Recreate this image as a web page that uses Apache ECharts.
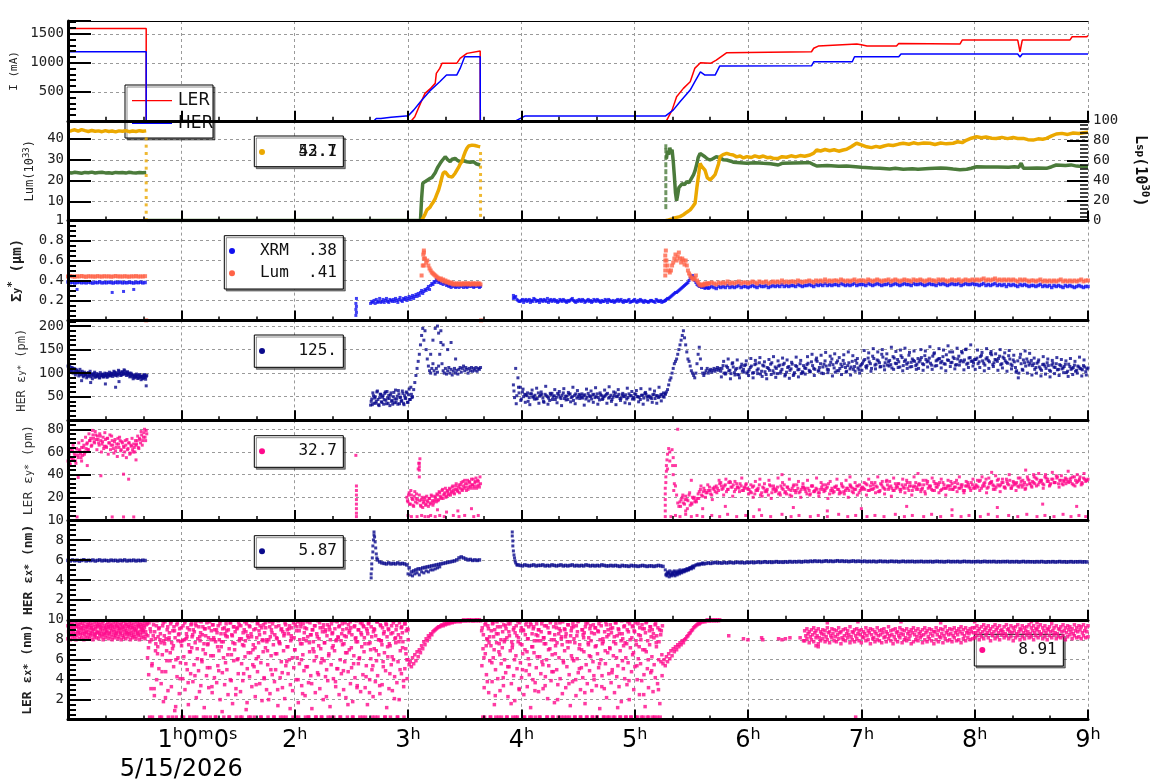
<!DOCTYPE html>
<html><head><meta charset="utf-8">
<script src="https://cdn.jsdelivr.net/npm/echarts@6/dist/echarts.min.js"></script>
<style>html,body{margin:0;padding:0;background:#fff}#c{width:1160px;height:782px}</style>
</head><body><div id="c"></div><script>
// ---------------- DATA (time in hours) ----------------
// Panel 1: beam currents (mA)
const lerCurT = [0,0.69,0.6901,3.03,3.06,3.11,3.15,3.2,3.24,3.25,3.28,3.30,3.43,3.46,3.52,3.637,3.638,5.28,5.33,5.37,5.43,5.49,5.53,5.58,5.67,5.72,5.81,6.56,6.58,6.62,6.96,7.00,7.05,7.31,7.33,7.87,7.89,8.38,8.40,8.42,8.84,8.86,8.99,9.0];
const lerCurV = [1590,1590,0,0,69,300,472,559,645,817,903,990,990,1076,1162,1202,0,0,184,414,559,672,903,1000,990,1046,1172,1190,1250,1288,1322,1310,1288,1290,1334,1322,1391,1391,1190,1391,1391,1448,1448,1470];
const herCurT = [0,0.69,0.6901,2.70,2.72,2.76,2.85,2.98,3.0,3.05,3.11,3.2,3.28,3.34,3.43,3.46,3.5,3.637,3.638,3.95,4.03,5.27,5.34,5.40,5.49,5.53,5.58,5.62,5.71,5.75,6.56,6.58,6.92,6.94,7.33,7.35,8.38,8.40,8.42,9.0];
const herCurV = [1190,1190,0,0,41,41,60,81,81,184,328,529,672,788,788,903,1103,1103,0,0,81,81,184,328,529,672,845,788,788,943,948,1017,1017,1103,1103,1150,1150,1100,1150,1150];

// Panel 2: luminosity (left, 10^33) and specific luminosity (right, 10^30)
const lumA = [43.6,43.9,44.3,43.7,44.4,43.9,43.5,44.0,43.6,43.8,43.4,43.9,43.5,43.7,43.3,43.8,43.6,43.9,43.4,43.7,43.5,43.9,43.6,43.8];
const lumB = [[3.12,1],[3.135,2.5],[3.15,4],[3.167,6.1],[3.18,6.6],[3.195,7.4],[3.21,8.8],[3.225,10],[3.24,11.5],[3.255,13.6],[3.27,15.6],[3.285,18.5],[3.30,21.8],[3.31,23.6],[3.328,24.3],[3.345,23.5],[3.36,22.1],[3.372,21.2],[3.39,21.8],[3.405,22.6],[3.416,23.6],[3.43,24.5],[3.45,26.8],[3.46,28],[3.475,29.1],[3.49,31.6],[3.505,33.8],[3.52,35.5],[3.535,36.6],[3.55,37.3],[3.565,37],[3.577,37.4],[3.59,36.8],[3.605,37.1],[3.62,36.4],[3.637,36.2]];
const lumC = [[5.27,1],[5.30,1.3],[5.33,1.8],[5.36,2.4],[5.40,2.9],[5.43,3.8],[5.46,5.0],[5.49,6.1],[5.51,7.5],[5.533,9.3],[5.55,17.2],[5.565,23.0],[5.577,28.3],[5.59,27.0],[5.62,25.1],[5.64,21.5],[5.665,20.4],[5.68,21.0],[5.694,21.9],[5.71,23.0],[5.724,23.6],[5.74,28.0],[5.754,31.5],[5.78,32.5],[5.812,33.1],[5.84,32.6],[5.87,32.3],[5.90,31.4],[5.93,31.8],[5.96,30.9],[5.99,31.5],[6.03,31.1],[6.06,31.9],[6.10,31.2],[6.135,31.8],[6.17,31.0],[6.2,31.2],[6.23,30.6],[6.267,30.7],[6.30,31.5],[6.34,31.2],[6.38,31.9],[6.42,31.4],[6.46,32.0],[6.50,31.7],[6.547,32.3],[6.58,33.2],[6.606,34.7],[6.64,34.2],[6.68,34.9],[6.72,34.3],[6.76,34.8],[6.80,34.1],[6.84,34.7],[6.87,35.0],[6.91,36.2],[6.958,37.9],[7.00,37.1],[7.047,36.2],[7.09,35.8],[7.13,36.4],[7.164,36.0],[7.2,36.6],[7.24,37.1],[7.28,36.8],[7.33,37.5],[7.37,37.9],[7.42,37.4],[7.46,38.1],[7.5,37.6],[7.55,38.0],[7.605,37.9],[7.65,37.3],[7.7,38.0],[7.75,37.6],[7.81,37.9],[7.85,38.6],[7.89,38.2],[7.93,39.4],[7.97,40.3],[8.017,41.0],[8.06,40.5],[8.1,40.9],[8.15,40.3],[8.19,40.2],[8.24,40.7],[8.29,40.1],[8.34,40.6],[8.38,40.2],[8.43,40.2],[8.47,39.6],[8.516,39.4],[8.56,40.0],[8.6,39.8],[8.634,40.2],[8.68,41.4],[8.72,42.3],[8.77,42.6],[8.82,42.1],[8.87,42.8],[8.92,42.5],[8.96,42.9],[9.0,43.1]];
const lumDrop = [[0.69,40],[0.69,36.5],[0.69,33],[0.69,29.5],[0.69,26],[0.69,22.5],[0.69,19],[0.69,15.5],[0.69,12],[0.69,8.5],[0.69,5],[0.69,1.5],[3.64,33],[3.64,30],[3.64,26.5],[3.64,23],[3.64,20],[3.64,16.5],[3.64,13],[3.64,10],[3.64,6.5],[3.64,3.5]];
const lspA = [48.2,47.6,48.5,48.0,47.4,48.3,47.9,48.6,47.7,48.1,48.4,47.8,48.0,47.5,48.3,47.9,48.2,47.6,48.4,48.0,47.7,48.2,47.9,48.1];
const lspB = [[0.695,0],[3.11,0],[3.12,22],[3.13,37.4],[3.15,39],[3.167,40.7],[3.19,42],[3.21,43],[3.225,44],[3.24,48],[3.26,53],[3.284,57.4],[3.30,60],[3.328,64],[3.35,61],[3.372,59],[3.39,61.5],[3.416,62.4],[3.44,60],[3.46,59],[3.49,60],[3.52,59],[3.55,58.5],[3.577,59],[3.60,57],[3.637,55.7]];
const lspC = [[3.645,0],[5.27,0]];
const lspD = [[5.28,62],[5.29,70],[5.30,66],[5.31,73],[5.32,68],[5.33,71],[5.34,60],[5.35,45],[5.36,28],[5.37,20],[5.38,26],[5.39,33],[5.40,35],[5.42,37],[5.44,36],[5.46,39],[5.48,38],[5.49,40],[5.50,42],[5.52,46],[5.533,50],[5.55,57.4],[5.56,63],[5.577,67.4],[5.59,66],[5.62,64],[5.64,62],[5.665,60.7],[5.69,62],[5.72,64],[5.754,63],[5.78,61],[5.812,60.7],[5.85,59.5],[5.87,58.5],[5.93,58],[5.99,57.4],[6.06,58],[6.135,57.4],[6.2,57],[6.267,55.7],[6.3,57.4],[6.4,57.8],[6.5,58],[6.547,58],[6.58,56],[6.606,54.7],[6.7,55.2],[6.8,54.5],[6.87,54.7],[6.95,54],[7.0,53.5],[7.1,52.6],[7.164,52.4],[7.25,51.8],[7.3,52.4],[7.37,51.4],[7.45,51.9],[7.5,51.4],[7.6,52.2],[7.7,52.8],[7.75,52.4],[7.81,51.6],[7.87,51],[7.93,51.4],[7.97,52.5],[8.017,54],[8.1,53.6],[8.2,53.8],[8.3,53.4],[8.35,54],[8.39,53.5],[8.41,57.5],[8.43,52.5],[8.47,52.4],[8.55,52.8],[8.634,52.4],[8.68,54],[8.72,55.7],[8.8,55.2],[8.85,55.8],[8.9,54.6],[8.95,54.2],[9.0,54]];
const lspCol = [[5.275,14],[5.275,21],[5.275,28],[5.275,35],[5.275,42],[5.275,49],[5.275,56],[5.275,63],[5.275,70],[5.275,74]];

// Panel 3: vertical beam size (um), XRM and Lum
const xrmA = [0.385,0.378,0.382,0.375,0.380,0.384,0.377,0.381,0.376,0.383,0.379,0.374,0.381,0.378,0.385,0.376,0.380,0.377,0.383,0.379,0.375,0.382,0.378,0.384,0.376,0.380,0.377,0.382,0.379,0.375,0.381,0.378,0.383,0.376,0.380];
const xrmOut = [[0.08,0.31],[0.39,0.28],[0.49,0.29],[0.58,0.31],[2.54,0.05],[2.545,0.08],[2.54,0.11],[2.545,0.14],[2.54,0.17],[2.545,0.22],[3.93,0.25]];
const xrmC = [0.17,0.19,0.18,0.20,0.17,0.21,0.18,0.19,0.22,0.18,0.19,0.21,0.18,0.20,0.22,0.19,0.18,0.21,0.20,0.19,0.21,0.19,0.22,0.20,0.18,0.21,0.23,0.20,0.19,0.22,0.21,0.23,0.20,0.22,0.24,0.21,0.23,0.25,0.22,0.24,0.26,0.24,0.27,0.25,0.28,0.30,0.27,0.29,0.31,0.30,0.32,0.34,0.31,0.35,0.37,0.36,0.39,0.38,0.41,0.40,0.38,0.39,0.37,0.40,0.36,0.38,0.37,0.35,0.36,0.34,0.35,0.33,0.36,0.34,0.35,0.33,0.34,0.36,0.33,0.35,0.34,0.36,0.33,0.35,0.34,0.33,0.35,0.34,0.36,0.34,0.35,0.33,0.34,0.36,0.34,0.35,0.33,0.34];
const xrmD = [0.22,0.24,0.20,0.19,0.21,0.20,0.19,0.21,0.20,0.22,0.19,0.20,0.21,0.19,0.20,0.22,0.20,0.19,0.21,0.20,0.19,0.20,0.21,0.19,0.20,0.20,0.22,0.19,0.20,0.21,0.19,0.20,0.19,0.21,0.20,0.19,0.20,0.21,0.19,0.20,0.19,0.20,0.21,0.19,0.20,0.19,0.21,0.20,0.19,0.20,0.19,0.21,0.19,0.20,0.19,0.20,0.21,0.19,0.20,0.19,0.19,0.20,0.19,0.21,0.19,0.20,0.19,0.20];
const xrmD2 = [0.23,0.21,0.19,0.20,0.18,0.21,0.20,0.18,0.19,0.21,0.20,0.18,0.20,0.21,0.19,0.18,0.21,0.20,0.19,0.18,0.21,0.19,0.20,0.18,0.19,0.21,0.20,0.18,0.19,0.20,0.21,0.18,0.20,0.19,0.18,0.21,0.19,0.20,0.18,0.19,0.21,0.18,0.20,0.19,0.18,0.20,0.19,0.21,0.18,0.19,0.20,0.18,0.19,0.21,0.18,0.19,0.20,0.18,0.19,0.18,0.20,0.19,0.18,0.20,0.19,0.18,0.19];
const xrmE = [0.20,0.21,0.22,0.22,0.23,0.24,0.25,0.26,0.27,0.28,0.28,0.29,0.30,0.31,0.32,0.33,0.34,0.35,0.36,0.37,0.38,0.40,0.42,0.44,0.45,0.43,0.40,0.38,0.36,0.35,0.34,0.34,0.33,0.34,0.33,0.32,0.33,0.33,0.32];
const xrmF = [0.33,0.34,0.33,0.32,0.34,0.33,0.34,0.33,0.35,0.33,0.34,0.33,0.34,0.35,0.33,0.34,0.34,0.33,
0.34,0.35,0.34,0.33,0.35,0.34,0.34,0.35,0.33,0.34,0.35,0.34,0.35,0.34,0.36,0.34,0.35,0.34,0.35,0.35,0.34,0.36,0.35,0.34,0.35,
0.35,0.36,0.35,0.34,0.36,0.35,0.36,0.35,0.37,0.35,0.36,0.35,0.36,0.36,0.35,0.37,0.36,0.35,0.36,0.35,0.36,0.37,0.35,0.36,0.36,
0.36,0.35,0.37,0.36,0.35,0.36,0.37,0.36,0.35,0.36,0.36,0.37,0.35,0.36,0.37,0.36,0.35,0.36,0.37,0.36,0.36,0.35,0.37,0.36,0.36,
0.37,0.36,0.35,0.36,0.37,0.36,0.36,0.35,0.37,0.36,0.37,0.36,0.35,0.36,0.37,0.36,0.36,0.37,0.35,0.36,0.37,0.36,0.36,0.37,0.36,
0.36,0.35,0.36,0.37,0.35,0.36,0.35,0.36,0.37,0.35,0.36,0.35,0.36,0.34,0.36,0.35,0.36,0.35,0.34,0.36,0.35,0.36,0.35,0.34,0.35,
0.35,0.34,0.35,0.36,0.34,0.35,0.34,0.35,0.33,0.35,0.34,0.35,0.34,0.33,0.35,0.34,0.35,0.34,0.33,0.34,0.35,0.34,0.33,0.34,0.34];
const lsyA = [0.44,0.445,0.44,0.438,0.442,0.44,0.445,0.44,0.437,0.443,0.44,0.441,0.438,0.444,0.44,0.439,0.443,0.44,0.442,0.438,0.44,0.445,0.44,0.441,0.439,0.443,0.44,0.438,0.442,0.44,0.444,0.439,0.441,0.44,0.443];
const lsyOut = [[0.69,0.0],[3.645,0.0],[3.14,0.55],[3.14,0.62],[3.14,0.70],[3.135,0.66],[5.27,0.5],[5.27,0.55],[5.27,0.6],[5.27,0.65],[5.275,0.7]];
const lsyB = [0.45,0.55,0.68,0.62,0.58,0.60,0.55,0.52,0.50,0.48,0.47,0.46,0.45,0.44,0.43,0.42,0.41,0.42,0.40,0.41,0.39,0.40,0.38,0.39,0.38,0.37,0.38,0.37,0.36,0.37,0.36,0.37,0.36,0.37,0.36,0.37,0.36,0.37,0.37,0.36,0.37,0.37,0.36,0.37,0.36,0.37,0.37,0.36,0.37,0.36,0.37,0.37,0.36];
const lsyC = [0.45,0.60,0.55,0.50,0.48,0.50,0.55,0.58,0.62,0.66,0.60,0.64,0.68,0.62,0.58,0.62,0.60,0.56,0.60,0.55,0.50,0.47,0.45,0.43,0.42,0.41,0.42,0.45,0.40,0.38,0.36,0.35,0.36,0.35,0.36,0.37,0.36,0.37,0.37];
const lsyD = [0.37,0.38,0.37,0.36,0.38,0.37,0.38,0.37,0.39,0.37,0.38,0.37,0.38,0.39,0.37,0.38,0.38,0.37,
0.38,0.39,0.38,0.37,0.39,0.38,0.38,0.39,0.37,0.38,0.39,0.38,0.39,0.38,0.40,0.38,0.39,0.38,0.39,0.39,0.38,0.40,0.39,0.38,0.39,
0.39,0.40,0.39,0.38,0.40,0.39,0.40,0.39,0.41,0.39,0.40,0.39,0.40,0.40,0.39,0.41,0.40,0.39,0.40,0.39,0.40,0.41,0.39,0.40,0.40,
0.40,0.39,0.41,0.40,0.39,0.40,0.41,0.40,0.39,0.40,0.40,0.41,0.39,0.40,0.41,0.40,0.39,0.40,0.41,0.40,0.40,0.39,0.41,0.40,0.40,
0.41,0.40,0.39,0.40,0.41,0.40,0.40,0.39,0.41,0.40,0.41,0.40,0.39,0.40,0.41,0.40,0.40,0.41,0.39,0.40,0.41,0.40,0.40,0.41,0.40,
0.41,0.40,0.41,0.42,0.40,0.41,0.40,0.41,0.42,0.40,0.41,0.40,0.41,0.40,0.41,0.40,0.41,0.40,0.39,0.41,0.40,0.41,0.40,0.39,0.40,
0.40,0.39,0.40,0.41,0.39,0.40,0.39,0.40,0.39,0.40,0.39,0.40,0.41,0.39,0.40,0.39,0.40,0.39,0.40,0.39,0.40,0.41,0.39,0.40,0.40];

// Panel 4: HER vertical emittance (pm)
const herEyA = [115,108,112,104,110,106,102,108,100,104,98,102,96,100,95,99,97,93,101,96,92,98,94,99,91,96,93,97,90,95,98,92,96,94,99,93,97,95,100,96,98,102,95,99,97,104,100,96,103,99,105,98,101,96,100,94,98,92,96,90,95,93,89,97,92,94,88,95,91,93];
const herEyA2 = [108,118,104,112,100,110,96,106,102,94,108,98,104,92,102,96,90,100,94,104,98,88,96,102,93,99,95,90,101,94,97,92,100,95,91,98,102,94,99,93,104,97,101,94,106,99,95,102,97,107,100,95,103,98,92,100,96,88,94,92,98,89,95,91,86,93,90,97,87,95];
const herEyOut = [[0.12,84],[0.2,80],[0.33,77],[0.42,70],[0.45,82],[0.69,73],[3.2,140],[3.22,170],[3.24,195],[3.26,200],[3.27,185],[3.29,190],[3.31,160],[3.35,150],[3.38,165],[3.42,130]];
const herEyB = [32,45,58,36,50,40,62,33,48,55,38,52,44,60,35,47,53,31,58,42,50,37,64,45,34,56,48,40,62,36,52,46,58,38,66,44,55,50];
const herEyB2 = [40,33,52,47,36,60,44,31,55,39,49,34,57,42,61,36,46,53,40,34,59,45,38,51,63,35,49,42,57,33,47,60,38,54,44,70,48];
const herEyC = [65,80,95,110,125,140,160,180,195,170,190,150,130,115,105,100,110,120,105,98,110,102,115,140,165,120,105,100,110,98,105,112,100,108,96,104,110,100,106,98,108,112,102,110,115,105,112,108,100,110,105,112,104,110,106,112,104,110,108,112];
const herEyD = [75,110,90,70,60,55,52,48,56,50,45,58,53,47,55,50,42,57,52,49,54,46,58,51,44,56,50,53,47,55,49,52,45,57,50,54,48,56,43,52,50,55,47,53,49,58,51,46,54,50,45,56,52,48,55,50,44,53,57,49,51,46,55,52,48,54,50,56];
const herEyD2 = [48,52,58,45,50,54,40,56,49,53,46,51,55,38,52,47,54,50,44,57,49,53,46,51,55,48,42,56,50,53,47,54,49,52,45,55,50,48,54,46,52,57,49,44,53,50,55,47,51,54,48,52,45,56,50,49,53,47,55,51,48,54,46,52,50,55,49];
const herEyD3 = [62,35,70,42,66,38,58,33,64,45,68,36,60,40,72,34,57,44,65,37,61,31,67,43,59,39,70,35,63,46,56,32,66,41,62,38,69,34,58,44,64,36,71,40,60,33,65,42,57,37,68,35,61,45,63,39,67,34,59,43,66,38,62,36,70,41,58];
const herEyE = [55,60,65,75,85,90,100,110,120,125,130,140,150,160,170,180,190,175,160,145,130,125,115,105,100,95,90,100,120,140,155,130,110,100,95,100,105,110,100,105,108,102,106,110,104,108,112,106,110];
const herEyF = [104,116,98,112,106,120,101,110,96,114,108,118,103,
112,100,118,106,122,104,115,97,110,119,105,113,99,117,108,121,102,114,109,95,116,107,120,103,111,
118,106,124,110,128,104,120,113,126,108,117,130,111,122,105,119,127,112,116,109,125,114,121,107,118,
126,114,132,120,136,117,128,122,140,115,130,124,118,135,121,129,113,133,125,119,138,123,127,116,131,
128,120,137,124,132,117,141,126,130,122,135,119,128,145,123,131,118,136,127,124,150,121,133,126,129,
132,124,138,121,130,127,142,118,129,125,136,120,131,123,137,119,128,112,126,133,108,122,130,117,127,
120,112,124,109,118,115,122,106,117,113,120,108,116,111,119,104,114,110,117,106,113,109,116,103,111];
const herEyF2 = [110,100,115,105,99,113,107,97,111,104,116,100,
107,115,101,120,109,98,117,103,112,106,122,100,110,115,104,118,97,112,106,119,101,114,108,99,116,
110,121,103,116,108,125,112,100,119,115,107,123,118,102,126,110,114,120,104,122,113,108,127,111,115,
121,129,116,124,110,131,119,126,114,134,122,117,127,111,132,120,124,137,116,128,122,113,130,125,119,
124,133,118,129,126,121,136,115,128,131,125,120,139,127,122,134,117,130,124,143,128,119,132,125,122,
129,120,135,126,117,133,124,139,122,128,131,118,134,126,121,130,116,124,105,100,120,128,115,124,121,
116,108,121,113,106,119,110,116,104,121,112,107,118,109,114,101,119,108,112,104,115,110,107,113,109];
const herEyF3 = [92,125,100,130,88,122,96,128,90,119,102,126,
95,131,90,127,99,133,93,124,88,129,97,135,91,126,100,132,94,128,89,123,98,134,92,127,101,
98,135,103,140,95,132,106,138,99,144,101,136,94,141,105,133,97,139,102,145,96,137,104,131,100,
106,148,111,143,104,152,109,145,113,150,107,141,115,155,108,146,112,149,105,153,110,144,114,147,108,
110,150,106,147,113,156,108,143,116,152,111,149,105,158,114,145,109,153,117,146,107,151,112,160,115,
108,149,112,144,105,152,110,146,114,141,106,150,111,143,104,148,109,138,102,90,140,106,147,100,142,
96,132,100,128,94,135,98,130,92,127,99,133,95,129,101,126,93,131,97,125,100,134,94,128,96];

// Panel 5: LER vertical emittance (pm)
const lerEyA = [52,58,49,55,61,53,57,50,60,55,62,58,64,57,66,60,63,68,62,70,72,66,75,69,78,71,74,68,76,70,67,73,65,71,64,72,68,75,66,70,63,69,61,67,72,64,70,62,68,65,60,66,71,63,68,59,65,62,67,60,66,70,64,72,68,75,70,77,73,79];
const lerEyA2 = [58,50,62,54,66,59,52,63,57,68,61,55,70,64,58,73,67,62,76,70,65,79,72,68,75,62,71,66,74,60,69,63,77,65,72,58,68,62,74,66,59,71,64,56,67,73,61,69,57,64,70,55,62,68,58,66,72,60,64,70,67,74,63,71,78,66,73,80,70,76];
const lerEyOut = [[0.08,2.7],[0.39,2.7],[0.49,2.7],[0.58,2.7],[0.09,37.5],[0.17,48],[0.29,39],[0.49,40.4],[0.535,36],[0.12,52],[0.6,53],
[2.545,3],[2.545,6],[2.545,10],[2.545,14],[2.545,18],[2.545,22],[2.545,26],[2.545,30],[2.54,57],
[3.1,38],[3.1,44],[3.1,50],[3.105,54],[3.1,47],
[3.0,4],[3.03,3],[3.08,3],[3.12,4],[3.15,3],[3.18,3],[3.2,4],[3.24,3],[3.28,4],[3.32,3],[3.4,4],[3.45,3],[3.5,4],[3.58,3],[3.62,4],[3.26,9],[3.34,7],[3.44,8],[3.56,10],
[5.27,3],[5.27,8],[5.27,13],[5.27,18],[5.27,23],[5.27,28],[5.275,33],[5.275,38],[5.28,43],[5.28,48],[5.285,53],[5.29,58],[5.30,63],[5.29,45],[5.31,60],[5.31,52],
[5.33,62],[5.34,55],[5.335,48],[5.34,40],[5.35,32],[5.345,26],[5.38,80],[5.36,30],[5.37,22],[5.38,15],[5.39,12],[5.36,48],
[5.32,3],[5.36,4],[5.4,3],[5.45,5],[5.5,3],[5.55,4],[5.6,3],[5.68,4],[5.75,3],[5.82,5],[5.9,3],[5.98,4],[6.05,3],[6.12,4],[6.2,3],[6.3,5],[6.38,3],[6.45,4],[6.55,3],[6.62,4],[6.7,3],[6.8,5],[6.88,3],[6.95,4],[7.05,3],[7.12,4],[7.2,3],[7.3,5],[7.38,3],[7.45,4],[7.55,3],[7.62,5],[7.7,3],[7.8,4],[7.88,3],[7.95,4],[8.05,3],[8.12,5],[8.2,3],[8.3,4],[8.38,3],[8.46,5],[8.55,3],[8.62,4],[8.7,3],[8.78,5],[8.85,3],[8.92,4],[8.98,3],
[5.45,8],[5.6,10],[5.8,12],[6.1,9],[6.4,11],[6.7,8],[7.0,10],[7.4,12],[7.8,9],[8.2,11],[8.6,14],[8.9,12],[5.5,35],[6.3,40],[6.9,38],[7.5,41],[8.15,42],[8.45,44],[8.52,40]];
const lerEyC = [20,16,24,14,22,18,12,25,19,15,45,22,13,18,11,16,20,14,17,12,19,15,21,13,17,20,16,22,18,24,20,26,19,23,28,21,25,22,27,24,29,26,23,30,27,25,31,28,33,26,30,35,29,32,27,34,30,36,31,28,33,37,30,34,29,32];
const lerEyC2 = [17,22,14,26,19,13,21,16,23,18,50,17,12,20,15,18,13,21,16,19,14,22,17,15,21,18,23,17,25,21,19,27,22,24,20,26,23,28,22,25,30,24,27,32,26,29,24,31,27,34,28,32,26,35,29,33,28,31,36,30,34,28,35,31,38];
const lerEyD = [16,20,14,18,22,15,19,17, 23,27,21,26,24,29,22,27, 30,26,33,28,31,27,34,29,25,32,28,30,26,31,27,
25,29,23,27,31,24,28,26,22,30,27,25,29,24,28,31,23,27,26,30,24,28,25,29,27,23,26,30,25,28,24,27,31,26,29,23,28,25,30,27,24,29,26,28,31,25,27,30,24,28,
28,32,26,30,27,33,29,25,31,28,34,27,30,26,32,29,27,31,28,35,26,30,29,33,27,31,28,25,32,30,27,34,29,31,26,33,28,30,27,32,29,35,28,31,26,30,33,28,31,29,
30,34,28,32,36,29,33,31,27,35,30,33,29,36,31,28,34,32,30,37,29,33,31,35,30,
33,37,31,35,32,38,34,30,36,33,39,32,35,31,37,34,36,32,38,33,35,31,37,34,36];
const lerEyD2 = [18,15,21,17,13,20,16,19, 25,22,28,24,26,23,28,25, 28,32,27,30,25,33,29,31,27,29,32,26,29,28,
27,24,30,26,28,22,29,25,27,31,24,28,26,23,30,27,25,29,22,28,26,31,24,27,29,25,28,23,30,26,27,24,29,25,28,32,26,24,29,27,25,30,23,28,26,29,24,27,30,26,
29,27,31,26,33,28,30,25,32,29,27,31,34,28,26,30,32,27,29,31,28,33,26,30,29,32,27,31,35,28,30,26,32,29,33,27,31,28,30,34,27,29,32,28,31,26,30,29,33,28,
31,29,35,30,33,28,32,34,30,29,36,31,33,28,32,35,30,31,33,29,34,31,28,36,32,
34,32,36,33,35,31,37,34,32,36,33,38,35,32,34,36,33,37,31,35,34,38,32,36,35];
const lerEyD3 = [12,22,18,10,24,14,20,16, 19,30,25,20,31,26,18,29, 24,35,30,22,36,27,33,21,34,29,25,37,28,32,23,
31,20,34,26,36,21,32,25,35,19,30,27,37,22,33,24,29,36,21,31,26,34,20,32,28,35,22,30,25,37,21,33,27,31,19,34,26,29,36,23,32,25,35,20,30,28,33,22,31,27,
33,22,36,27,31,24,38,26,34,23,35,29,21,37,28,32,25,36,24,33,30,22,38,27,31,25,35,23,34,29,37,26,32,24,36,28,22,35,30,27,33,25,38,29,24,34,31,26,36,28,
35,26,38,30,24,37,33,27,39,31,25,36,29,34,40,28,33,26,37,31,35,27,38,32,29,
38,30,41,34,28,40,36,31,42,33,37,29,39,35,32,43,34,38,30,40,36,33,41,35,39];

// Panel 6: HER horizontal emittance (nm)
const herExA = [5.95,5.9,6.0,5.92,5.97,5.88,5.95,6.02,5.9,5.96,5.93,5.99,5.89,5.95,6.0,5.91,5.96,5.94,5.9,5.98,5.93,5.96,5.89,5.97,5.92,6.0,5.9,5.95,5.93,5.98,5.9,5.96,5.92,5.97,5.94];
const herExOut = [[2.675,4.2],[2.675,4.6],[2.68,5.1],[2.68,5.6],[2.685,6.2],[2.69,6.8],[2.69,7.4],[2.695,8.0],[2.70,8.5],[2.70,8.8],[2.705,8.3],[2.71,7.8],[2.715,7.2],[2.72,6.6],[2.725,6.2],
[3.92,8.8],[3.92,8.4],[3.925,7.9],[3.925,7.4],[3.93,6.9],[3.935,6.5],[3.94,6.2],[3.945,5.9],[3.95,5.7],[3.96,5.5]];
const herExB = [6.0,5.8,5.7,5.65,5.6,5.7,5.6,5.65,5.6,5.7,5.6,5.65,5.6,5.5,5.2,4.8,4.9,5.0,5.1,5.1,5.2,5.25,5.3,5.35,5.4,5.45,5.5,5.55,5.6,5.65,5.7,5.75,5.8,5.85,5.9,6.0,6.2,6.3,6.2,6.1,6.0,6.05,5.95,6.0,5.95,6.0];
const herExB2 = [4.6,4.5,4.4,4.6,4.7,4.5,4.8,4.7,4.9,4.8,5.0,5.0,5.1,5.2,5.3];
const herExC = [5.5,5.45,5.4,5.5,5.45,5.4,5.45,5.5,5.4,5.45,5.45,5.5,5.4,5.45,5.4,5.5,5.45,5.4,5.45,5.5,5.4,5.45,5.4,5.45,5.5,5.4,5.45,5.4,5.45,5.4,5.5,5.45,5.4,5.45,5.4,5.45,5.4,5.5,5.45,5.4,5.4,5.45,5.4,5.45,5.4,5.35,5.45,5.4,5.4,5.35,5.45,5.4,5.4,5.35,5.4,5.45,5.4,5.35,5.4,5.4,5.35,5.4,5.45,5.4,5.35];
const herExD = [5.0,4.6,4.8,4.7,4.9,4.6,4.8,4.7,4.9,4.8,4.7,4.9,4.8,5.0,4.8,4.9,5.0,4.9,5.0,5.1,5.0,5.1,5.2,5.1,5.3,5.2,5.4,5.5,5.5,5.6,5.5,5.6,5.6,5.7];
const herExD2 = [4.5,4.4,4.6,4.3,4.5,4.4,4.6,4.5,4.4,4.6,4.5,4.7,4.6,4.8,4.7,4.9,4.8,5.0,4.9,5.1,5.0,5.2,5.2,5.3,5.4];
const herExE = [5.6,5.65,5.7,5.65,5.7,5.75,5.7,5.72,5.68,5.75,5.7,5.73,5.76,5.7,5.74,5.78,5.72,5.75,5.7,5.76,
5.74,5.78,5.72,5.76,5.8,5.74,5.78,5.82,5.76,5.8,5.75,5.79,5.83,5.77,5.8,5.76,5.82,5.78,5.84,5.79,5.83,5.8,5.85,5.79,5.83,
5.86,5.82,5.88,5.84,5.9,5.85,5.88,5.83,5.87,5.91,5.85,5.89,5.84,5.88,5.92,5.86,5.9,5.85,5.88,5.83,5.87,5.9,5.84,5.88,5.86,
5.84,5.88,5.82,5.86,5.83,5.87,5.81,5.85,5.88,5.83,5.86,5.82,5.85,5.87,5.83,5.86,5.81,5.84,5.87,5.82,5.85,5.83,5.86,5.81,5.84,
5.83,5.86,5.81,5.84,5.82,5.85,5.8,5.84,5.86,5.82,5.84,5.8,5.83,5.86,5.81,5.84,5.82,5.85,5.8,5.83,5.86,5.82,5.84,5.81,5.83,
5.82,5.85,5.8,5.83,5.86,5.81,5.84,5.82,5.85,5.8,5.83,5.81,5.84,5.82,5.85,5.8,5.83,5.81,5.84,5.79,5.82,5.85,5.8,5.83,5.81,
5.82,5.79,5.83,5.8,5.84,5.81,5.78,5.82,5.8,5.83,5.79,5.81,5.84,5.8,5.82,5.78,5.81,5.83,5.79,5.82,5.8,5.83,5.79,5.81,5.8];

// Panel 7: LER horizontal emittance (nm); 0.25 = points sitting on the floor
const lerExA1 = [8.1,8.4,8.0,8.5,8.2,8.6,8.3,8.0,8.4,8.7,8.1,8.5,8.2,8.6,8.0,8.3,8.7,8.2,8.5,8.1,8.4,8.6,8.0,8.3,8.5,8.2,8.7,8.1,8.4,8.6,8.3,8.0,8.5,8.2,8.7,8.4,8.1,8.6,8.3,8.0,8.5,8.2,8.4,8.7,8.1,8.3,8.6,8.0,8.4,8.2,8.5,8.1,8.7,8.3,8.6,8.0,8.4,8.2,8.5,8.3,8.1,8.6,8.4,8.0,8.5,8.2,8.7,8.3,8.1,8.5];
const lerExA2 = [8.8,9.1,8.7,9.2,8.9,9.0,8.6,9.3,8.8,9.1,8.7,9.0,9.2,8.9,8.6,9.1,8.8,9.3,9.0,8.7,9.2,8.9,9.0,8.6,9.1,8.8,9.3,8.7,9.0,9.2,8.9,8.6,9.1,8.8,9.0,9.3,8.7,9.1,8.9,9.2,8.8,9.0,8.6,9.3,8.9,9.1,8.7,9.0,9.2,8.8,9.1,8.9,8.6,9.3,9.0,8.7,9.2,8.8,9.1,8.9,9.0,8.7,9.3,8.8,9.1,9.0,8.9,9.2,8.8];
const lerExA3 = [9.4,9.6,9.3,9.7,9.5,9.2,9.8,9.4,9.6,9.3,9.5,9.7,9.2,9.6,9.4,9.8,9.3,9.5,9.7,9.4,9.6,9.2,9.5,9.8,9.3,9.6,9.4,9.7,9.5,9.3,9.6,9.8,9.4,9.2,9.5,9.7,9.3,9.6,9.4,9.5,9.8,9.3,9.6,9.4,9.7,9.2,9.5,9.6,9.3,9.8,9.4,9.6,9.5,9.3,9.7,9.4,9.6,9.2,9.5,9.8,9.3,9.6,9.4,9.7,9.5,9.3,9.6,9.4,9.8,9.5];
const lerExB1 = [9.6,7.2,0.25,8.8,5.4,9.9,3.1,8.1,9.4,6.6,9.1,0.25,7.7,4.8,9.7,8.4,2.2,6.9,9.3,8.0,5.9,9.8,0.25,7.4,8.9,1.3,9.5,6.2,8.6,4.1,
9.2,7.9,0.25,9.7,5.6,8.3,3.7,9.0,6.8,9.6,8.5,0.25,4.4,9.4,7.1,9.9,2.8,8.7,6.0,9.3,7.6,9.1,0.25,5.2,8.2,9.8,6.4,3.3,9.5,8.0,
0.25,9.0,7.3,4.9,9.6,8.6,0.8,7.8,9.2,5.7,8.9,6.5,0.25,9.7,3.9,8.4,9.3,7.0,2.5,9.1,6.1,9.5,0.25,8.1,7.5,4.6,9.8,8.8,1.7,6.7,
9.4,0.25,8.3,5.5,9.0,7.2,3.5,9.6,6.3,8.5,0.25,9.2,7.9,4.2,9.7,8.0,6.9,2.0,9.3,5.0,8.7,9.9,0.25,6.6,8.2,3.0,9.4,7.6,9.0,4.7,
0.25,8.6,9.5,5.8,7.3,9.1,1.1,8.4,6.2,9.7,7.0,0.25,9.3,4.0,8.9,9.6,6.0,2.6,8.1,9.2,5.3,9.8,0.25,7.7,8.5,3.6,9.0,6.8,9.4,0.25,
8.3,4.5,9.7,7.1,0.25,9.2,5.9,8.8,2.3,9.5,6.4,9.0,0.25,8.6,7.4,9.9,3.8,8.0,5.1,9.3,0.25,7.9,9.6,4.9,8.4,6.7,9.1,1.5,8.7,9.8,
7.2,0.25,5.6,9.4,8.2,3.2,9.0,6.1,9.7,8.5,0.25,9.3,7.6,4.3,8.9,9.6,2.7,7.0,8.3,5.4,9.1,0.25,6.9,9.8,8.0,3.4,9.4,7.5,5.8,8.8,
0.25,9.5,7.3,9.0,4.6,8.6,6.3,9.7,2.1,8.2,9.4,0.25,7.8,5.0,9.2,8.7,3.9,9.6,7.1,6.0,9.0];
const lerExB2 = [8.4,9.7,9.1,8.0,0.25,9.5,8.8,7.6,9.9,8.3,9.2,8.6,0.25,9.4,7.9,9.8,8.1,9.0,0.25,8.7,9.6,7.7,8.9,9.3,8.2,0.25,9.7,8.5,9.1,7.8,
0.25,9.4,8.0,9.9,8.6,9.2,7.5,0.25,9.5,8.3,9.0,8.8,9.6,0.25,8.1,9.3,7.9,9.8,8.5,0.25,9.1,8.4,9.7,7.6,9.2,0.25,8.9,9.5,8.2,9.0,
0.25,8.7,9.4,8.0,9.9,7.8,9.1,0.25,8.6,9.6,8.3,9.0,0.25,9.7,8.5,7.7,9.3,8.8,0.25,9.2,9.8,8.1,9.4,0.25,8.7,9.0,7.9,9.6,8.4,0.25,
9.3,8.6,9.9,7.5,0.25,9.1,8.2,9.7,8.9,9.4,0.25,8.0,9.5,8.7,9.2,7.8,0.25,9.8,8.3,9.0,9.6,0.25,8.5,9.3,8.1,9.9,7.7,0.25,9.1,8.8,
8.4,9.7,0.25,9.0,8.6,9.4,7.9,9.2,0.25,8.2,9.5,8.9,9.8,0.25,8.0,9.3,7.6,9.6,8.7,0.25,9.1,8.3,0.25,9.7,8.5,9.0,7.8,9.4,0.25,8.6,
9.9,8.1,9.2,0.25,8.8,9.5,7.7,9.0,8.4,0.25,9.3,8.0,9.6,8.7,0.25,9.1,7.9,9.8,8.2,9.4,0.25,8.6,9.0,7.6,9.7,8.3,0.25,9.5,8.9,9.2,
8.5,0.25,9.3,8.1,9.9,7.8,9.0,0.25,8.7,9.6,9.4,8.2,0.25,9.1,8.6,9.7,7.7,9.3,0.25,8.8,9.0,8.4,9.8,0.25,8.0,9.5,7.9,9.2,8.6,0.25,
9.6,8.3,9.1,7.6,0.25,9.4,8.7,9.9,8.1,9.0,0.25,8.5,9.7,8.2,9.3,7.8,0.25,9.6,8.9,9.1];
const lerExB3 = [6.2,4.5,7.8,3.1,5.6,8.4,2.4,6.9,4.0,7.3,5.1,8.0,3.6,6.5,1.8,7.6,4.8,5.9,2.9,8.2,6.7,3.3,7.1,5.3,0.9,6.0,4.3,7.9,2.6,5.7,
7.4,4.1,6.3,3.0,8.1,5.0,1.5,6.8,4.6,7.2,3.8,5.5,7.7,2.2,6.1,4.9,8.3,3.4,5.8,7.0,1.2,6.6,4.4,7.5,3.2,5.2,8.0,2.7,6.4,4.2,
7.8,3.7,5.4,6.9,2.0,7.3,4.7,6.2,3.5,8.4,5.0,2.5,7.1,4.0,6.5,1.6,5.9,7.6,3.1,6.0,4.6,7.9,2.8,5.6,3.9,7.4,6.3,1.0,5.1,8.2,
4.3,6.7,3.3,7.0,5.3,2.3,6.1,4.8,7.7,3.6,5.7,1.9,6.8,4.1,7.2,3.0,5.5,8.0,2.6,6.4,4.5,7.5,3.8,5.0,6.6,1.4,7.8,4.2,5.8,3.2,
6.9,2.1,5.4,7.3,4.6,6.0,3.5,8.1,2.9,5.2,7.0,4.0,6.2,1.7,5.6,7.6,3.4,6.5,4.9,2.4,7.9,5.3,3.7,6.8,4.4,1.1,7.1,5.9,2.7,6.3,
4.7,7.4,3.1,5.7,6.1,2.0,7.7,4.3,5.0,3.9,6.6,1.3,5.5,7.2,4.1,6.9,3.3,5.1,8.3,2.5,6.0,4.6,7.5,3.0,5.8,2.2,6.7,4.8,7.0,3.6,
5.2,1.8,6.4,4.2,7.8,3.4,5.6,6.2,2.8,7.3,4.5,6.8,3.2,5.4,1.5,7.6,4.0,6.1,5.0,2.3,7.1,3.8,5.9,4.4,6.5,2.6,7.9,3.5,5.3,6.7,
4.9,1.2,6.3,3.1,7.4,5.5,2.9,6.0,4.3,7.7,3.7,5.8,2.0,6.9,4.6,7.2,3.3,5.1,6.6,4.1,8.0];
const lerExC = [6.0,5.5,5.8,5.3,6.2,5.6,6.5,5.9,6.8,6.3,7.0,6.7,7.4,7.1,7.8,7.5,8.1,7.9,8.4,8.2,8.6,8.5,8.8,8.9,9.0,9.1,9.2,9.3,9.3,9.4,9.5,9.4,9.6,9.5,9.6,9.7,9.6,9.7,9.8,9.7,9.8,9.8,9.9,9.8,9.9,9.9,9.8,9.9,9.9,10,9.9,9.9,10,9.9,10,9.9,10,9.9,9.9,10,9.9,10,9.9,10,9.9];
const lerExD1 = [8.9,0.25,6.2,9.5,7.4,3.8,9.1,8.3,0.25,5.7,9.7,7.0,2.4,8.6,9.3,0.25,6.5,8.0,9.9,4.2,7.8,9.4,0.25,5.3,8.8,9.6,1.6,7.2,9.0,6.0,
0.25,8.4,9.8,3.1,7.6,9.2,5.0,8.9,0.25,9.5,6.8,8.1,4.5,9.7,0.25,7.3,9.3,2.9,8.5,6.3,9.0,0.25,7.9,9.6,5.5,8.2,3.4,9.4,0.25,7.0,
8.7,9.9,4.8,0.25,8.0,6.6,9.2,2.0,8.6,9.7,0.25,7.5,5.9,9.1,8.3,0.25,9.5,3.6,7.8,8.9,6.1,9.3,0.25,4.0,8.4,9.8,7.1,0.25,5.2,9.0,
8.2,2.7,9.6,0.25,7.7,6.4,9.4,8.7,0.25,4.4,9.2,7.4,0.25,8.8,5.6,9.9,3.3,8.1,0.25,6.9,9.5,0.25,8.5,7.2,9.1,4.7,0.25,8.3,9.7,6.2,
1.2,9.0,0.25,7.9,8.6,5.1,9.4,0.25,7.6,9.8,3.9,8.0,0.25,9.3,6.7,8.8,0.25,5.4,9.6,7.3,8.4,0.25,9.1,2.5,7.0,9.7,0.25,6.0,8.9,9.3,
4.9,0.25,8.2,9.5,7.7,0.25,3.0,9.0,8.5,6.5];
const lerExD2 = [9.2,8.5,0.25,9.7,8.1,9.4,7.7,0.25,8.9,9.6,8.3,9.0,0.25,9.8,8.6,7.6,9.3,0.25,8.8,9.5,8.0,9.1,0.25,9.6,8.4,9.9,7.8,0.25,9.2,8.7,
9.4,0.25,8.2,9.7,8.9,7.5,9.0,0.25,8.5,9.8,8.1,9.3,0.25,9.5,8.6,9.1,7.9,0.25,9.6,8.4,9.0,0.25,8.8,9.9,8.2,9.4,7.6,0.25,9.2,8.7,
9.7,8.0,0.25,9.3,8.5,9.6,7.7,0.25,9.1,8.9,8.3,9.8,0.25,9.0,8.6,7.8,9.5,0.25,8.4,9.2,9.6,8.1,0.25,9.4,8.8,9.9,7.5,0.25,9.0,8.5,
8.7,9.3,0.25,9.7,8.2,9.1,7.9,0.25,9.5,8.6,9.2,0.25,8.9,9.6,8.0,9.4,7.6,0.25,8.8,9.8,8.3,9.0,0.25,9.5,8.7,9.2,7.8,0.25,9.7,8.4,
9.1,8.6,0.25,9.9,8.1,9.3,7.7,0.25,9.0,8.8,9.6,0.25,8.2,9.4,8.9,9.7,7.5,0.25,8.5,9.2,8.0,9.5,0.25,9.1,8.7,9.8,7.9,0.25,9.3,8.3,
9.0,8.6,0.25,9.6,8.4,9.2,7.8,0.25,8.9,9.4];
const lerExD3 = [5.4,7.1,3.2,6.6,4.5,8.0,2.7,5.9,7.4,3.8,6.2,1.5,5.0,7.7,4.1,6.8,2.9,5.6,7.2,3.4,6.0,4.7,8.2,2.3,5.3,6.9,3.6,7.5,4.4,1.9,
6.4,5.1,7.8,3.0,5.7,4.2,6.6,2.5,7.0,4.9,3.3,6.1,5.5,1.2,7.3,4.0,6.7,3.7,5.2,7.9,2.8,6.3,4.6,5.8,3.1,7.6,4.3,6.0,2.1,5.4,
7.1,3.9,6.5,4.8,1.7,7.4,5.0,3.5,6.2,4.1,8.1,2.6,5.7,6.9,3.2,5.3,7.2,4.5,1.4,6.4,3.8,5.9,7.7,2.4,6.1,4.7,5.1,3.0,7.0,4.2,
6.8,1.6,5.5,3.6,7.5,4.9,6.3,2.9,5.8,4.0,7.3,3.4,6.6,5.2,1.1,6.0,4.4,7.8,3.1,5.6,2.2,6.7,4.6,7.1,3.7,5.0,6.4,2.7,7.6,4.3,
5.4,3.3,6.9,1.8,5.9,7.4,4.1,6.2,3.5,5.7,2.0,7.2,4.8,6.5,3.0,5.3,7.9,4.0,6.1,2.5,5.6,3.9,7.0,4.5,1.3,6.8,5.1,3.2,7.5,4.7,
6.3,2.8,5.5,4.2,7.3,3.6,6.0,1.6,5.8,4.4];
const lerExE = [5.6,6.0,5.4,6.3,5.8,6.6,6.1,6.9,6.4,7.1,6.8,7.3,7.0,7.5,7.3,7.7,7.5,7.9,7.7,8.0,8.1,8.3,8.4,8.6,8.7,8.9,9.0,9.2,9.3,9.4,9.5,9.6,9.6,9.7,9.8,9.8,9.9,9.8,9.9,10,9.9,9.9,10,9.9,10,9.9,10,9.9,10,9.9,10];
const lerExOut = [[5.83,8.4],[5.96,8.1],[6.0,8.0],[6.12,8.2],[6.13,8.0],[6.27,8.1],[6.30,8.0],[6.33,8.1],[6.37,8.2],[6.46,8.2],[6.49,7.9],[6.6,7.4],[6.62,7.3],[6.7,9.7],[6.95,0.25],[7.7,9.7],[8.0,9.8],[8.5,9.8],[8.55,9.7],[7.35,9.8],[6.97,9.8]];
const lerExG1 = [7.9,8.1,7.7,8.0,7.8,8.2,7.6,7.9,8.1,7.8,8.0,7.7,8.2,7.9,7.8,8.1,7.6,8.0,7.9,8.2,7.7,8.0,7.8,8.1,7.9,
7.7,8.2,7.9,8.0,7.6,8.1,7.8,8.0,7.9,7.7,8.2,7.8,8.1,7.9,7.6,8.0,7.8,8.2,7.7,8.0,7.9,8.1,7.6,7.8,8.0,
7.9,8.2,7.7,8.0,7.8,8.1,7.9,7.6,8.0,7.8,8.2,7.7,8.1,7.9,8.0,7.8,8.2,7.9,8.0,7.7,8.1,7.9,8.2,8.0,8.1,
8.2,8.4,8.0,8.3,8.1,8.5,8.2,7.9,8.4,8.1,8.3,8.0,8.5,8.2,8.4,8.1,8.3,7.9,8.2,8.4,8.0,8.3,8.1,8.5,8.2,
8.3,8.0,8.4,8.2,8.5,8.1,8.3,8.0,8.4,8.2,8.5,8.1,8.3,8.2,8.4,8.0,8.3,8.5,8.1,8.4,8.2,8.3,8.1,8.4,8.2,8.3];
const lerExG2 = [8.4,8.6,8.3,8.5,8.7,8.4,8.2,8.6,8.5,8.3,8.7,8.4,8.6,8.3,8.5,8.7,8.2,8.4,8.6,8.5,8.3,8.7,8.4,8.6,8.5,
8.3,8.6,8.4,8.7,8.5,8.2,8.6,8.4,8.5,8.7,8.3,8.6,8.4,8.5,8.3,8.7,8.4,8.6,8.5,8.2,8.6,8.4,8.7,8.5,8.3,
8.6,8.4,8.5,8.7,8.3,8.6,8.4,8.8,8.5,8.3,8.6,8.4,8.7,8.5,8.6,8.4,8.7,8.5,8.8,8.6,8.4,8.7,8.6,8.8,8.7,
8.7,8.9,8.6,8.8,9.0,8.7,8.9,8.6,8.8,9.0,8.7,8.9,8.8,8.6,9.0,8.8,8.7,8.9,8.6,8.8,9.0,8.7,8.9,8.8,8.6,
8.9,8.7,9.0,8.8,8.6,8.9,8.7,9.0,8.8,8.9,8.7,8.6,9.0,8.8,8.9,8.7,9.0,8.8,8.6,8.9,8.8,9.0,8.7,8.9,8.8];
const lerExG3 = [8.9,9.1,8.8,9.0,9.2,8.9,9.1,8.8,9.0,8.9,9.2,8.8,9.1,9.0,8.9,9.2,8.8,9.0,9.1,8.9,9.3,8.8,9.0,9.1,8.9,
9.0,8.8,9.2,8.9,9.1,9.0,8.8,9.2,8.9,9.0,9.1,8.8,9.3,8.9,9.0,9.1,8.8,9.2,9.0,8.9,9.1,8.8,9.0,9.2,8.9,
9.1,8.8,9.0,9.2,8.9,9.1,9.0,8.8,9.2,8.9,9.1,9.0,9.3,8.9,9.1,9.0,9.2,8.9,9.1,9.3,9.0,9.2,8.9,9.1,9.2,
9.2,9.4,9.1,9.3,9.5,9.2,9.4,9.1,9.3,9.5,9.2,9.4,9.0,9.3,9.5,9.1,9.4,9.2,9.3,9.5,9.1,9.4,9.2,9.3,9.5,
9.2,9.4,9.1,9.3,9.5,9.2,9.4,9.1,9.3,9.6,9.2,9.4,9.1,9.3,9.5,9.2,9.4,9.3,9.1,9.5,9.2,9.4,9.3,9.5,9.2,9.4];

// axis tick labels
const dateLabel = '5/15/2026';
const lumTicks = [1,10,20,30,40];
const lumGridTicks = [10,20,30,40];

// ---------------- BUILD ----------------
const seg = (t0, dt, vals) => vals.map((v, i) => [Math.round((t0 + i * dt) * 10000) / 10000, v]);
const pairs = (ts, vs) => ts.map((t, i) => [t, vs[i]]);
const C = {ler:'#ff0000', her:'#0000ff', lum:'#eba800', lsp:'#4b7b3b', xrm:'#1010f0', lsy:'#ff6347', navy:'#0a0a8c', pink:'#ff0a8c'};
const GRID_TOP = 21, GRID_H = 99.8;
const grids = [], xAxes = [], yAxes = [], X = [], Y = [];
const splitStyle = {show:true, lineStyle:{color:'#9a9a9a', width:1, type:[3,3]}};
const mono = 'DejaVu Sans Mono';

for (let i = 0; i < 7; i++) {
  grids.push({left:68, width:1020, top:GRID_TOP + i * GRID_H, height:GRID_H, containLabel:false, outerBoundsMode:'none'});
  X[i] = xAxes.length;
  xAxes.push({type:'value', gridIndex:i, min:0, max:9, interval:1, position:'bottom', z:3,
    axisLine:{show:true, onZero:false, lineStyle:{color:'#000', width:3}},
    axisTick:{show:true, inside:true, length:10, lineStyle:{color:'#000', width:2}},
    minorTick:{show:true, splitNumber:3, length:4, lineStyle:{color:'#000', width:1.5}},
    splitLine:{show:false},
    axisLabel: i === 6 ? {
      show:true, margin:7, color:'#000',
      formatter: v => v === 0 ? '' : (v === 1 ? '{sp| }{n|1}{s|h}{n|0}{s|m}{n|0}{s|s}\n{n|' + dateLabel + '}' : '{n|' + v + '}{s|h}'),
      rich:{
        n:{fontFamily:'DejaVu Sans', fontSize:24, color:'#000', lineHeight:29},
        s:{fontFamily:'DejaVu Sans', fontSize:16, color:'#000', verticalAlign:'top'},
        sp:{width:32, fontSize:10}
      }
    } : {show:false}
  });
  xAxes.push({type:'value', gridIndex:i, min:0, max:9, interval:1, position:'top', z:0,
    axisLine:{show:i === 0, onZero:false, lineStyle:{color:'#000', width:1}},
    axisTick:{show:false}, axisLabel:{show:false}, splitLine:splitStyle});
}

const nm = (fs, bold, color) => ({fontFamily:mono, fontSize:fs, fontWeight:bold ? 'bold' : 'normal', color:color || '#222'});
const yCfg = [
  {min:0, max:1720, interval:500, minor:5, fmt:v => (v > 0 && v < 1700) ? String(v) : '',
   name:'I (mA)', gap:41, ns:nm(11,false)},
  {min:1, max:48.6, minor:0, custom:lumTicks, splitCustom:lumGridTicks, fmt:v => String(v),
   name:'{a|Lum(10}{u|33}{a|)}', gap:23, ns:Object.assign(nm(12,false), {rich:{a:Object.assign(nm(12,false), {lineHeight:16}), u:Object.assign(nm(9,false), {verticalAlign:'top'})}})},
  {min:0, max:1, interval:0.2, minor:4, fmt:v => (v > 0.01 && v < 0.99) ? v.toFixed(1) : '',
   name:'{b|Σ}{l|y}{u|*}{b| (μm)}', gap:41, ns:Object.assign(nm(14,true), {rich:{b:Object.assign(nm(14,true), {lineHeight:20}), l:nm(10,true), u:Object.assign(nm(11,true), {verticalAlign:'top'})}})},
  {min:0, max:212, interval:50, minor:5, fmt:v => (v > 0 && v <= 200) ? String(v) : '',
   name:'{a|HER ε}{l|y*}{a| (pm)}', gap:33, ns:Object.assign(nm(12,false,'#333'), {rich:{a:Object.assign(nm(12,false,'#333'), {lineHeight:17}), l:nm(9,false,'#333')}})},
  {min:0, max:88, interval:20, minor:5, fmt:v => (v > 0 && v <= 80) ? String(v) : '',
   name:'{a|LER ε}{l|y*}{a| (pm)}', gap:30, ns:Object.assign(nm(13,false,'#333'), {rich:{a:Object.assign(nm(13,false,'#333'), {lineHeight:18}), l:nm(10,false,'#333')}})},
  {min:0, max:10, interval:2, minor:4, fmt:v => v > 0 ? String(v) : '',
   name:'{a|HER ε}{l|x*}{a| (nm)}', gap:30, ns:Object.assign(nm(13,true), {rich:{a:Object.assign(nm(13,true), {lineHeight:18}), l:nm(10,true)}})},
  {min:0, max:10, interval:2, minor:4, fmt:v => v > 0 ? String(v) : '',
   name:'{a|LER ε}{l|x*}{a| (nm)}', gap:31, ns:Object.assign(nm(13,true), {rich:{a:Object.assign(nm(13,true), {lineHeight:18}), l:nm(10,true)}})}
];
let YR = 0;
yCfg.forEach((c, i) => {
  Y[i] = yAxes.length;
  yAxes.push({type:'value', gridIndex:i, position:'left', min:c.min, max:c.max, interval:c.interval, z:3,
    axisLine:{show:true, onZero:false, lineStyle:{color:'#000', width:3}},
    axisTick:Object.assign({show:true, inside:true, length:23, lineStyle:{color:'#000', width:2}}, c.custom ? {customValues:c.custom} : {}),
    minorTick:{show:c.minor > 0, splitNumber:c.minor || 5, length:8, lineStyle:{color:'#000', width:2}},
    axisLabel:Object.assign({show:true, margin:4, fontFamily:mono, fontSize:14, color:'#222', formatter:c.fmt}, c.custom ? {customValues:c.custom} : {}),
    splitLine:{show:false},
    name:c.name, nameLocation:'middle', nameGap:c.gap, nameRotate:90, nameTextStyle:c.ns});
  if (i === 1) {
    YR = yAxes.length;
    yAxes.push({type:'value', gridIndex:1, position:'right', min:0, max:100, interval:20, z:3,
      axisLine:{show:false, onZero:false},
      axisTick:{show:true, inside:true, length:21, lineStyle:{color:'#000', width:2}},
      minorTick:{show:true, splitNumber:5, length:8, lineStyle:{color:'#000', width:1.5}},
      axisLabel:{show:true, margin:5, fontFamily:mono, fontSize:14, color:'#222'},
      splitLine:{show:false},
      name:'{b|L}{l|sp}{b|(10}{u|30}{b|)}', nameLocation:'middle', nameGap:42, nameRotate:-90,
      nameTextStyle:Object.assign(nm(15,true,'#111'), {rich:{b:Object.assign(nm(15,true,'#111'), {lineHeight:20}), l:nm(11,true,'#111'), u:Object.assign(nm(11,true,'#111'), {verticalAlign:'top'})}})});
  }
  yAxes.push({type:'value', gridIndex:i, position:'right', min:c.min, max:c.max, interval:c.interval, z:0,
    axisLine:{show:false, onZero:false},
    axisTick:Object.assign({show:false}, c.splitCustom ? {customValues:c.splitCustom} : {}),
    axisLabel:{show:false}, splitLine:splitStyle});
});

const series = [];
const sc = (g, data, color, size, yIdx) => series.push({type:'scatter', xAxisIndex:X[g], yAxisIndex:yIdx !== undefined ? yIdx : Y[g], data, symbol:'rect', symbolSize:size || 3, itemStyle:{color}, silent:true, animation:false, z:2});
const ln = (g, data, color, width, yIdx) => series.push({type:'line', xAxisIndex:X[g], yAxisIndex:yIdx !== undefined ? yIdx : Y[g], data, showSymbol:false, symbol:'none', connectNulls:false, lineStyle:{color, width}, itemStyle:{color}, silent:true, animation:false, z:2});

// panel 1
ln(0, pairs(lerCurT, lerCurV), C.ler, 1.5);
ln(0, pairs(herCurT, herCurV), C.her, 1.5);
// panel 2
ln(1, seg(0, 0.03, lspA), C.lsp, 3.5, YR);
ln(1, lspB, C.lsp, 3.5, YR);
ln(1, lspC, C.lsp, 3, YR);
ln(1, lspD, C.lsp, 3.5, YR);
sc(1, lspCol, C.lsp, [3,5], YR);
ln(1, seg(0, 0.03, lumA), C.lum, 3.5);
ln(1, lumB, C.lum, 3.5);
ln(1, lumC, C.lum, 3.5);
sc(1, lumDrop, C.lum, 3);
// panel 3
sc(2, seg(0, 0.02, xrmA), C.xrm, 3.5);
sc(2, xrmOut, C.xrm, 3);
sc(2, seg(2.67, 0.01, xrmC), C.xrm, 3);
sc(2, seg(3.93, 0.02, xrmD), C.xrm, 3);
sc(2, seg(3.94, 0.02, xrmD2), C.xrm, 3);
sc(2, seg(5.27, 0.01, xrmE), C.xrm, 3);
sc(2, seg(5.66, 0.02, xrmF), C.xrm, 3.5);
sc(2, seg(0, 0.02, lsyA), C.lsy, 4);
sc(2, lsyOut, C.lsy, 4);
sc(2, seg(3.12, 0.01, lsyB), C.lsy, 4);
sc(2, seg(5.27, 0.01, lsyC), C.lsy, 4);
sc(2, seg(5.66, 0.02, lsyD), C.lsy, 4);
// panel 4
sc(3, seg(0, 0.01, herEyA), C.navy, 3);
sc(3, seg(0.005, 0.01, herEyA2), C.navy, 3);
sc(3, herEyOut, C.navy, 3);
sc(3, seg(2.67, 0.01, herEyB), C.navy, 3);
sc(3, seg(2.675, 0.01, herEyB2), C.navy, 3);
sc(3, seg(3.05, 0.01, herEyC), C.navy, 3);
sc(3, seg(3.93, 0.02, herEyD), C.navy, 3);
sc(3, seg(3.94, 0.02, herEyD2), C.navy, 3);
sc(3, seg(3.935, 0.02, herEyD3), C.navy, 3);
sc(3, seg(5.27, 0.01, herEyE), C.navy, 3);
sc(3, seg(5.76, 0.02, herEyF), C.navy, 3);
sc(3, seg(5.77, 0.02, herEyF2), C.navy, 3);
sc(3, seg(5.765, 0.02, herEyF3), C.navy, 3);
// panel 5
sc(4, seg(0, 0.01, lerEyA), C.pink, 3);
sc(4, seg(0.005, 0.01, lerEyA2), C.pink, 3);
sc(4, lerEyOut, C.pink, 3);
sc(4, seg(2.99, 0.01, lerEyC), C.pink, 3);
sc(4, seg(2.995, 0.01, lerEyC2), C.pink, 3);
sc(4, seg(5.40, 0.02, lerEyD), C.pink, 3);
sc(4, seg(5.41, 0.02, lerEyD2), C.pink, 3);
sc(4, seg(5.405, 0.02, lerEyD3), C.pink, 3);
// panel 6
sc(5, seg(0, 0.02, herExA), C.navy, 3.5);
sc(5, herExOut, C.navy, 3);
sc(5, seg(2.73, 0.02, herExB), C.navy, 3.5);
sc(5, seg(3.0, 0.02, herExB2), C.navy, 3);
sc(5, seg(3.97, 0.02, herExC), C.navy, 3.5);
sc(5, seg(5.27, 0.01, herExD), C.navy, 3);
sc(5, seg(5.275, 0.01, herExD2), C.navy, 3);
sc(5, seg(5.61, 0.02, herExE), C.navy, 3.5);
// panel 7
sc(6, seg(0, 0.01, lerExA1), C.pink, 3.5);
sc(6, seg(0.005, 0.01, lerExA2), C.pink, 3.5);
sc(6, seg(0, 0.01, lerExA3), C.pink, 3.5);
sc(6, seg(0.70, 0.01, lerExB1), C.pink, 3.5);
sc(6, seg(0.705, 0.01, lerExB2), C.pink, 3.5);
sc(6, seg(0.702, 0.01, lerExB3), C.pink, 3.5);
sc(6, seg(3.0, 0.01, lerExC), C.pink, 3.5);
sc(6, seg(3.65, 0.01, lerExD1), C.pink, 3.5);
sc(6, seg(3.655, 0.01, lerExD2), C.pink, 3.5);
sc(6, seg(3.652, 0.01, lerExD3), C.pink, 3.5);
sc(6, seg(5.25, 0.01, lerExE), C.pink, 3.5);
sc(6, lerExOut, C.pink, 3.5);
sc(6, seg(6.5, 0.02, lerExG1), C.pink, 3.5);
sc(6, seg(6.51, 0.02, lerExG2), C.pink, 3.5);
sc(6, seg(6.5, 0.02, lerExG3), C.pink, 3.5);

// ---------------- legend boxes ----------------
const lf = '16px "DejaVu Sans Mono"';
const box = (x, y, w, h) => ({type:'rect', z:1, shape:{x, y, width:w, height:h}, style:{fill:'#fff', stroke:'#000', lineWidth:1, shadowColor:'rgba(0,0,0,0.45)', shadowOffsetX:2, shadowOffsetY:2, shadowBlur:0}});
const dot = (cx, cy, color) => ({type:'circle', z:1, shape:{cx, cy, r:3}, style:{fill:color}});
const txt = (x, y, t, align, font) => ({type:'text', z:1, x, y, style:{text:t, font:font || lf, fill:'#111', textAlign:align || 'right', align:align || 'right', textVerticalAlign:'middle', verticalAlign:'middle'}});
const graphics = [
  box(125, 85, 88, 53),
  {type:'line', z:1, shape:{x1:132, y1:100.7, x2:172, y2:100.7}, style:{stroke:C.ler, lineWidth:1.2}},
  {type:'line', z:1, shape:{x1:132, y1:123.3, x2:172, y2:123.3}, style:{stroke:C.her, lineWidth:1.2}},
  txt(178, 101, 'LER', 'left', '17px "DejaVu Sans"'),
  txt(178, 124, 'HER', 'left', '17px "DejaVu Sans"'),
  box(254.3, 136, 89, 30.7), dot(262, 152, C.lum), txt(337, 152, '43.1'), txt(337, 152, '52.7'),
  box(224.3, 235.7, 119, 53.3), dot(232, 251, C.xrm), dot(232, 273.3, C.lsy), txt(337, 251, 'XRM  .38'), txt(337, 273.3, 'Lum  .41'),
  box(254.3, 335, 89, 32.3), dot(262, 351, C.navy), txt(337, 351, '125.'),
  box(254.3, 435.7, 89, 31.6), dot(262, 451.3, C.pink), txt(337, 451.3, '32.7'),
  box(254.3, 535.7, 89, 31.6), dot(262, 551.3, C.navy), txt(337, 551.3, '5.87'),
  box(974.3, 634.3, 89, 31.7), dot(982.3, 650, C.pink), txt(1056.7, 650, '8.91')
];

const chart = echarts.init(document.getElementById('c'), null, {renderer:'canvas'});
chart.setOption({
  animation:false, backgroundColor:'#fff',
  grid:grids, xAxis:xAxes, yAxis:yAxes, series, graphic:graphics
});
</script></body></html>
